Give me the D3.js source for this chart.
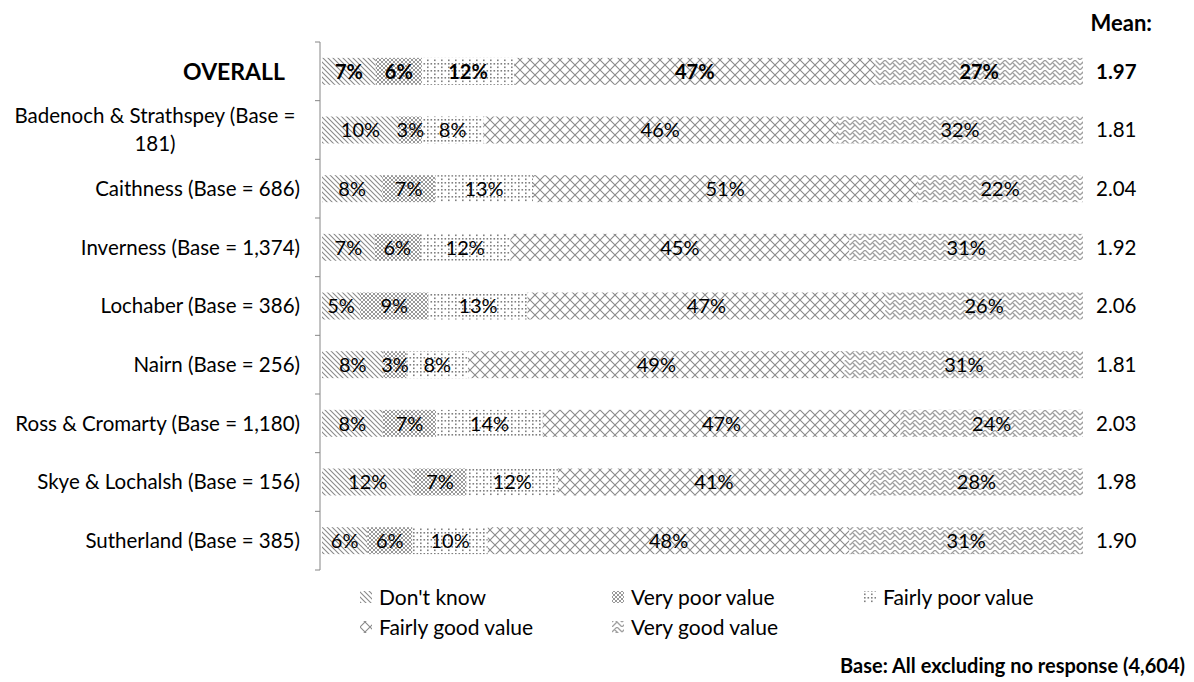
<!DOCTYPE html>
<html>
<head>
<meta charset="utf-8">
<style>
  body { margin: 0; background: #fff; }
  svg text { font-family: Lato, "Open Sans", sans-serif; fill: #000; }
</style>
</head>
<body>
<script src="https://d3js.org/d3.v7.min.js"></script>
<script>

// categories and values (percent of respondents)
var categories = ["OVERALL", "Badenoch & Strathspey (Base = 181)", "Caithness (Base = 686)",
  "Inverness (Base = 1,374)", "Lochaber (Base = 386)", "Nairn (Base = 256)",
  "Ross & Cromarty (Base = 1,180)", "Skye & Lochalsh (Base = 156)", "Sutherland (Base = 385)"];
var dontKnow   = [7, 10, 8, 7, 5, 8, 8, 12, 6];
var veryPoor   = [6, 3, 7, 6, 9, 3, 7, 7, 6];
var fairlyPoor = [12, 8, 13, 12, 13, 8, 14, 12, 10];
var fairlyGood = [47, 46, 51, 45, 47, 49, 47, 41, 48];
var veryGood   = [27, 32, 22, 31, 26, 31, 24, 28, 31];
var means = ["1.97", "1.81", "2.04", "1.92", "2.06", "1.81", "2.03", "1.98", "1.90"];
var seriesNames = ["Don't know", "Very poor value", "Fairly poor value", "Fairly good value", "Very good value"];

var width = 1194, height = 682;
var svg = d3.select("body").append("svg")
    .attr("width", width)
    .attr("height", height);

// hatch patterns
var defs = svg.append("defs");
var grey = "#8a8a8a";
function pat(id, size, draw) {
  var p = defs.append("pattern").attr("id", id)
      .attr("patternUnits", "userSpaceOnUse")
      .attr("width", size).attr("height", size);
  p.append("rect").attr("width", size).attr("height", size).attr("fill", "#fff");
  draw(p);
}
pat("p0", 5, function(p) {
  p.append("path").attr("d", "M0,0L5,5M-1,4L1,6M4,-1L6,1").attr("fill", "none")
    .attr("stroke", grey).attr("stroke-width", 1.1);
});
pat("p1", 4, function(p) {
  p.append("path").attr("d", "M0,0L4,4M4,0L0,4").attr("fill", "none")
    .attr("stroke", "#999").attr("stroke-width", 1);
});
pat("p2", 7, function(p) {
  [[0,0],[3.5,0],[0,3.5]].forEach(function(d) {
    p.append("rect").attr("x", d[0]).attr("y", d[1]).attr("width", 1.6).attr("height", 1.6).attr("fill", "#808080");
  });
});
pat("p3", 10, function(p) {
  p.append("path").attr("d", "M0,0L10,10M10,0L0,10").attr("fill", "none")
    .attr("stroke", grey).attr("stroke-width", 1.1);
});
pat("p4", 10, function(p) {
  p.append("path").attr("d", "M0,5L5,0L10,5M0,10L5,5L10,10M2.5,2.5L5,5M7.5,7.5L10,10").attr("fill", "none")
    .attr("stroke", "#a0a0a0").attr("stroke-width", 1.3);
});

var x = d3.scaleLinear().domain([0, 1]).range([322, 1083]);
var y = d3.scaleBand().domain(categories).range([42, 570])
    .paddingInner(0.54).paddingOuter(0.27);

var values = [dontKnow, veryPoor, fairlyPoor, fairlyGood, veryGood];
var rows = categories.map(function(c, i) {
  var total = d3.sum(values, function(s) { return s[i]; });
  var acc = 0;
  return values.map(function(s, k) {
    var seg = {cat: c, row: i, k: k, v: s[i], x0: acc / total, x1: (acc + s[i]) / total};
    acc += s[i];
    return seg;
  });
});
var segs = d3.merge(rows);

svg.append("g").selectAll("rect").data(segs).enter().append("rect")
    .attr("x", function(d) { return x(d.x0); })
    .attr("width", function(d) { return x(d.x1) - x(d.x0); })
    .attr("y", function(d) { return y(d.cat); })
    .attr("height", y.bandwidth())
    .attr("fill", function(d) { return "url(#p" + d.k + ")"; });

svg.append("g").selectAll("text").data(segs).enter().append("text")
    .attr("x", function(d) { return (x(d.x0) + x(d.x1)) / 2; })
    .attr("y", function(d) { return y(d.cat) + y.bandwidth() / 2; })
    .attr("dy", "0.36em")
    .attr("text-anchor", "middle")
    .style("font-size", "20px")
    .style("font-weight", function(d) { return d.row === 0 ? "bold" : "normal"; })
    .text(function(d) { return d.v + "%"; });

// category axis
var axis = svg.append("g").attr("transform", "translate(320,0)");
axis.append("line").attr("x1", 0).attr("x2", 0).attr("y1", 42).attr("y2", 570)
    .attr("stroke", "#868686");
var tickYs = categories.map(function(c) { return y(c) - y.step() * y.paddingInner() / 2; }).concat([570]);
axis.selectAll(".tk").data(tickYs).enter().append("line")
    .attr("x1", -5).attr("x2", 0)
    .attr("y1", function(d) { return d; }).attr("y2", function(d) { return d; })
    .attr("stroke", "#868686");

var labels = svg.append("g");
categories.forEach(function(c, i) {
  var cy = y(c) + y.bandwidth() / 2;
  if (i === 0) {
    labels.append("text").attr("x", 285).attr("y", cy).attr("dy", "0.36em")
      .attr("text-anchor", "end").style("font-size", "23px").style("font-weight", "bold").text(c);
  } else if (c.length > 30) {
    var t = labels.append("text").attr("text-anchor", "middle").style("font-size", "20.5px");
    t.append("tspan").attr("x", 155).attr("y", cy - 14).attr("dy", "0.36em").text("Badenoch & Strathspey (Base =");
    t.append("tspan").attr("x", 155).attr("y", cy + 14).attr("dy", "0.36em").text("181)");
  } else {
    labels.append("text").attr("x", 300).attr("y", cy).attr("dy", "0.36em")
      .attr("text-anchor", "end").style("font-size", "20.5px").text(c);
  }
});

// means column
svg.append("text").attr("x", 1152).attr("y", 23).attr("dy", "0.36em")
    .attr("text-anchor", "end").style("font-size", "22px").style("font-weight", "bold").text("Mean:");
svg.append("g").selectAll("text").data(means).enter().append("text")
    .attr("x", 1096)
    .attr("y", function(d, i) { return y(categories[i]) + y.bandwidth() / 2; })
    .attr("dy", "0.36em")
    .style("font-size", "20.5px")
    .style("font-weight", function(d, i) { return i === 0 ? "bold" : "normal"; })
    .text(function(d) { return d; });

// legend
var legPos = [[360, 597], [612, 597], [864, 597], [360, 627], [612, 627]];
var leg = svg.append("g").selectAll("g").data(seriesNames).enter().append("g")
    .attr("transform", function(d, i) { return "translate(" + legPos[i][0] + "," + legPos[i][1] + ")"; });
leg.append("rect").attr("x", 0).attr("y", -6).attr("width", 12).attr("height", 12)
    .attr("fill", function(d, i) { return "url(#p" + i + ")"; });
leg.append("text").attr("x", 19).attr("dy", "0.36em").style("font-size", "21px")
    .text(function(d) { return d; });

svg.append("text").attr("x", 1185).attr("y", 666).attr("dy", "0.36em")
    .attr("text-anchor", "end").style("font-size", "20px").style("font-weight", "bold")
    .text("Base: All excluding no response (4,604)");

</script>
</body>
</html>
